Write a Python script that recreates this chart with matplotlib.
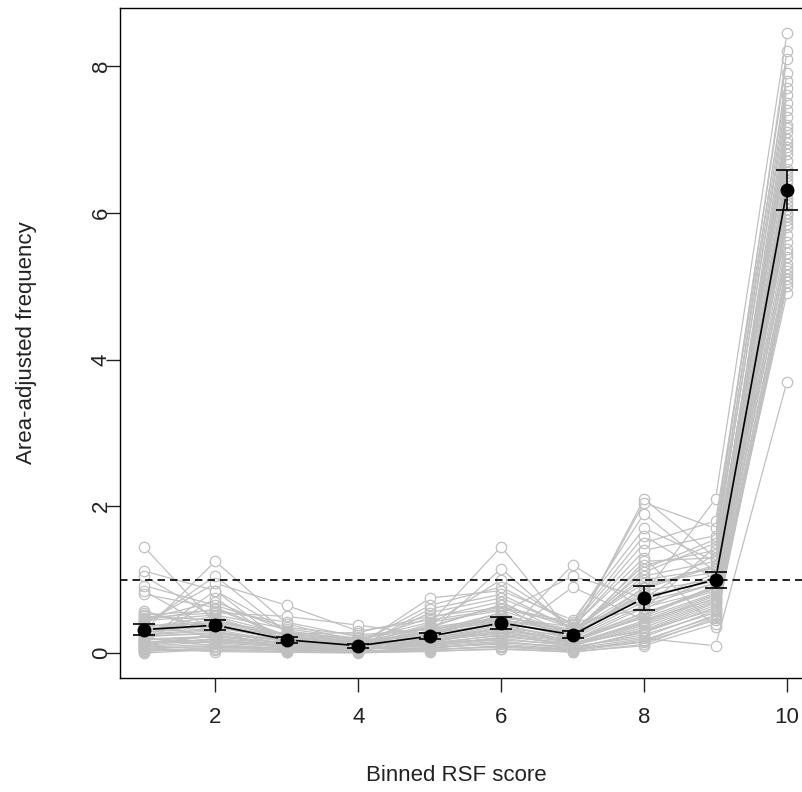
import numpy as np
import matplotlib.pyplot as plt
from matplotlib.collections import LineCollection

plt.rcParams['font.family'] = ['Liberation Sans', 'DejaVu Sans']

# binned RSF score
bins = [1, 2, 3, 4, 5, 6, 7, 8, 9, 10]

# area-adjusted frequency, one row per replicate
replicates = [
    [0.12, 0.25, 0.08, 0.05, 0.15, 0.30, 0.18, 0.55, 0.85, 6.10],
    [0.45, 0.60, 0.22, 0.12, 0.30, 0.55, 0.20, 0.90, 1.20, 7.40],
    [0.05, 0.10, 0.03, 0.02, 0.08, 0.12, 0.05, 0.30, 0.60, 5.20],
    [1.45, 0.40, 0.15, 0.08, 0.20, 0.35, 0.22, 0.70, 0.95, 5.80],
    [0.30, 1.25, 0.40, 0.15, 0.25, 0.50, 0.30, 1.10, 1.50, 7.90],
    [0.20, 0.15, 0.10, 0.06, 0.35, 0.65, 0.12, 0.40, 0.75, 6.50],
    [0.00, 0.05, 0.02, 0.01, 0.05, 0.08, 0.03, 0.15, 0.45, 5.00],
    [0.55, 0.35, 0.18, 0.10, 0.40, 1.45, 0.25, 2.10, 1.30, 6.90],
    [0.35, 0.50, 0.25, 0.20, 0.10, 0.20, 1.20, 0.60, 1.05, 6.20],
    [1.12, 0.85, 0.30, 0.18, 0.22, 0.40, 0.15, 0.50, 0.90, 5.50],
    [0.10, 0.20, 0.12, 0.08, 0.55, 0.75, 0.35, 1.40, 1.60, 8.20],
    [0.25, 0.30, 0.05, 0.04, 0.12, 0.25, 0.10, 0.35, 0.70, 5.90],
    [0.40, 0.95, 0.65, 0.30, 0.45, 0.60, 0.40, 1.90, 1.10, 7.10],
    [0.08, 0.12, 0.06, 0.03, 0.18, 0.30, 0.08, 0.25, 0.55, 4.90],
    [0.50, 0.45, 0.20, 0.12, 0.28, 1.15, 0.30, 0.80, 2.10, 8.45],
    [0.18, 0.22, 0.14, 0.09, 0.15, 0.18, 0.90, 0.45, 0.80, 6.00],
    [0.92, 0.65, 0.35, 0.25, 0.32, 0.45, 0.28, 1.20, 1.40, 7.60],
    [0.02, 0.08, 0.04, 0.02, 0.06, 0.15, 0.06, 0.20, 0.10, 3.70],
    [0.28, 0.38, 0.16, 0.10, 0.75, 0.85, 0.45, 1.70, 1.25, 6.80],
    [0.38, 1.05, 0.28, 0.14, 0.20, 0.38, 0.20, 0.65, 0.95, 6.30],
    [0.15, 0.18, 0.09, 0.07, 0.10, 0.22, 0.14, 0.30, 0.65, 5.40],
    [0.48, 0.55, 0.50, 0.38, 0.25, 0.50, 0.32, 1.00, 1.15, 7.20],
    [0.06, 0.02, 0.01, 0.00, 0.03, 0.05, 0.02, 0.10, 0.40, 5.10],
    [0.85, 0.30, 0.12, 0.06, 0.38, 1.00, 0.38, 1.50, 1.80, 7.80],
    [0.22, 0.28, 0.18, 0.11, 0.16, 0.28, 0.16, 0.55, 0.88, 6.15],
    [0.33, 0.42, 0.24, 0.16, 0.48, 0.70, 0.22, 0.85, 1.00, 6.60],
    [0.14, 0.75, 0.10, 0.05, 0.12, 0.20, 0.10, 0.38, 0.72, 5.70],
    [0.42, 0.20, 0.07, 0.04, 0.26, 0.55, 1.05, 0.75, 1.35, 7.00],
    [0.04, 0.06, 0.05, 0.03, 0.04, 0.10, 0.04, 0.18, 0.50, 5.30],
    [1.05, 0.48, 0.20, 0.12, 0.30, 0.42, 0.26, 2.05, 1.70, 8.10],
    [0.26, 0.32, 0.15, 0.08, 0.60, 0.80, 0.33, 0.95, 1.10, 6.70],
    [0.16, 0.14, 0.08, 0.05, 0.14, 0.24, 0.12, 0.42, 0.78, 5.95],
    [0.52, 0.58, 0.42, 0.22, 0.35, 0.48, 0.36, 1.30, 0.35, 6.40],
    [0.09, 0.16, 0.11, 0.06, 0.09, 0.16, 0.07, 0.28, 0.62, 5.60],
    [0.36, 0.44, 0.26, 0.28, 0.50, 0.62, 0.42, 0.60, 1.45, 7.50],
    [0.20, 0.10, 0.06, 0.03, 0.20, 0.32, 0.18, 0.48, 0.82, 6.05],
    [0.46, 0.70, 0.30, 0.18, 0.42, 0.58, 0.28, 1.05, 1.25, 6.95],
    [0.11, 0.24, 0.13, 0.07, 0.07, 0.14, 0.09, 0.22, 0.58, 5.25],
    [0.31, 0.36, 0.19, 0.13, 0.65, 0.90, 0.40, 1.60, 1.00, 6.55],
    [0.24, 0.26, 0.17, 0.09, 0.18, 0.26, 0.15, 0.52, 0.92, 6.25],
    [0.03, 0.04, 0.02, 0.01, 0.02, 0.06, 0.01, 0.12, 0.48, 5.15],
    [0.44, 0.52, 0.33, 0.20, 0.33, 0.46, 0.30, 0.88, 1.18, 7.30],
    [0.17, 0.85, 0.11, 0.06, 0.13, 0.36, 0.13, 0.44, 0.74, 5.85],
    [0.58, 0.28, 0.16, 0.11, 0.24, 0.52, 0.24, 1.15, 1.55, 7.70],
    [0.13, 0.19, 0.09, 0.05, 0.11, 0.18, 0.11, 0.32, 0.68, 5.45],
    [0.37, 0.40, 0.21, 0.14, 0.36, 0.66, 0.34, 0.72, 1.08, 6.85],
    [0.07, 0.09, 0.04, 0.02, 0.05, 0.09, 0.05, 0.16, 0.52, 5.05],
    [0.29, 0.33, 0.27, 0.17, 0.27, 0.40, 0.27, 0.78, 0.98, 6.45],
    [0.80, 0.62, 0.23, 0.15, 0.29, 0.44, 0.21, 1.25, 1.30, 7.15],
    [0.19, 0.23, 0.14, 0.10, 0.17, 0.34, 0.17, 0.62, 0.87, 6.00],
]

# mean and error bar half-width (black points)
mean_vals = [0.32, 0.38, 0.18, 0.10, 0.23, 0.41, 0.25, 0.75, 1.00, 6.31]
err_vals = [0.07, 0.07, 0.04, 0.03, 0.04, 0.08, 0.05, 0.16, 0.11, 0.27]

ref_line = 1.0

fig = plt.figure(figsize=(8.02, 7.92), dpi=100)
# right edge of the box runs off the picture, as in the original
ax = fig.add_axes([0.1496, 0.1439, 0.866, 0.846])
ax.set_xlim(0.665, 10.385)
ax.set_ylim(-0.34, 8.79)


def gapped_segments(xs, ys, gap):
    # R type="b": segments stop short of the points
    pts = ax.transData.transform(np.column_stack([xs, ys]))
    inv = ax.transData.inverted()
    segs = []
    for p0, p1 in zip(pts[:-1], pts[1:]):
        d = p1 - p0
        L = np.hypot(*d)
        if L <= 2 * gap:
            continue
        u = d / L
        segs.append([inv.transform(p0 + u * gap), inv.transform(p1 - u * gap)])
    return segs


grey = '#c0c0c0'
all_segs = []
for row in replicates:
    all_segs += gapped_segments(bins, row, 5.5)
ax.add_collection(LineCollection(all_segs, colors=grey, linewidths=0.9, zorder=1))
for row in replicates:
    ax.plot(bins, row, 'o', ms=7.5, mfc='none', mec=grey, mew=0.9, zorder=2)

ax.axhline(ref_line, color='black', lw=1.2, ls=(0, (4.5, 3)), zorder=3)

ax.add_collection(LineCollection(gapped_segments(bins, mean_vals, 9), colors='black',
                                 linewidths=1.2, zorder=4))
ax.errorbar(bins, mean_vals, yerr=err_vals, fmt='o', color='black', ms=9,
            capsize=8, elinewidth=1.2, capthick=1.2, zorder=5)

ax.set_xticks([2, 4, 6, 8, 10])
ax.set_yticks([0, 2, 4, 6, 8])
ax.tick_params(direction='out', length=10, width=1, labelsize=16, colors='#222222')
ax.tick_params(axis='x', pad=11)
ax.tick_params(axis='y', pad=-4)
for lab in ax.get_yticklabels():
    lab.set_rotation(90)
    lab.set_va('center')
ax.set_xlabel('Binned RSF score', fontsize=16, color='#222222', va='center')
ax.set_ylabel('Area-adjusted frequency', fontsize=16, color='#222222', va='center')
ax.xaxis.set_label_coords(0.484, -0.145)
ax.yaxis.set_label_coords(-0.134, 0.5)
for s in ax.spines.values():
    s.set_linewidth(1)

fig.savefig('out.png', dpi=100)
